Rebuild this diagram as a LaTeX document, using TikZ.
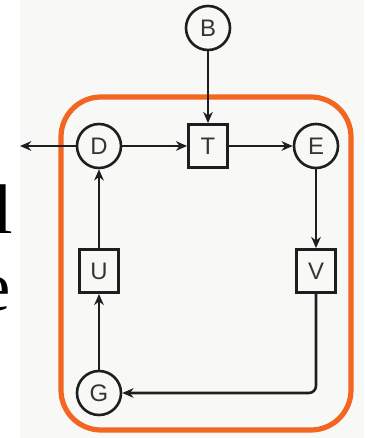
\documentclass[tikz,border=0pt]{standalone}
\usepackage{fontspec}
\usepackage{tikz}
\usetikzlibrary{arrows.meta,positioning}
\newfontfamily\labelfont{Liberation Sans}
\newfontfamily\slidefont{Liberation Serif}
\definecolor{softgray}{RGB}{248,249,247}
\definecolor{accentorange}{RGB}{242,102,34}
\definecolor{inkgray}{RGB}{30,30,30}
\tikzset{
    statenode/.style={
        circle,
        draw=inkgray,
        text=inkgray!90,
        line width=0.065cm,
        minimum size=1.1cm,
        inner sep=0pt,
        font=\labelfont\fontsize{17}{17}\selectfont
    },
    blocknode/.style={
        rectangle,
        draw=inkgray,
        text=inkgray!90,
        line width=0.065cm,
        minimum width=0.98cm,
        minimum height=1.08cm,
        inner sep=0pt,
        font=\labelfont\fontsize{17}{17}\selectfont
    },
    flow/.style={
        -{Stealth[length=0.28cm,width=0.24cm]},
        line width=0.065cm,
        draw=inkgray
    },
    slidetext/.style={
        inner sep=0pt,
        font=\slidefont\fontsize{50}{60}\selectfont
    }
}

\begin{document}
\begin{tikzpicture}[x=0.025cm,y=-0.025cm]
    \useasboundingbox (0,0) rectangle (364,438);
    \clip (0,0) rectangle (364,438);
    \fill[white] (0,0) rectangle (364,438);
    \fill[softgray] (20,0) rectangle (364,438);

    \node[slidetext, anchor=base east] (lineL) at (13,233) {l};
    \node[slidetext, anchor=base east] (lineE) at (11,310) {e};

    \draw[accentorange, line width=0.13cm, rounded corners=1cm]
        (61,97) rectangle (351,430);

    \node[statenode] (B) at (208,28) {B};
    \node[blocknode] (T) at (208,146) {T};
    \node[statenode] (D) at (99,146) {D};
    \node[statenode] (E) at (316,146) {E};
    \node[blocknode] (U) at (99,271) {U};
    \node[blocknode] (V) at (316,271) {V};
    \node[statenode] (G) at (99,393) {G};
    \coordinate (exit) at (20,146);

    \draw[flow] (B) -- (T);
    \draw[flow] (D) -- (T);
    \draw[flow] (T) -- (E);
    \draw[flow] (D) -- (exit);
    \draw[flow] (E) -- (V);
    \draw[flow, rounded corners=0.18cm] (V.south) |- (G.east);
    \draw[flow] (G) -- (U);
    \draw[flow] (U) -- (D);
\end{tikzpicture}
\end{document}
